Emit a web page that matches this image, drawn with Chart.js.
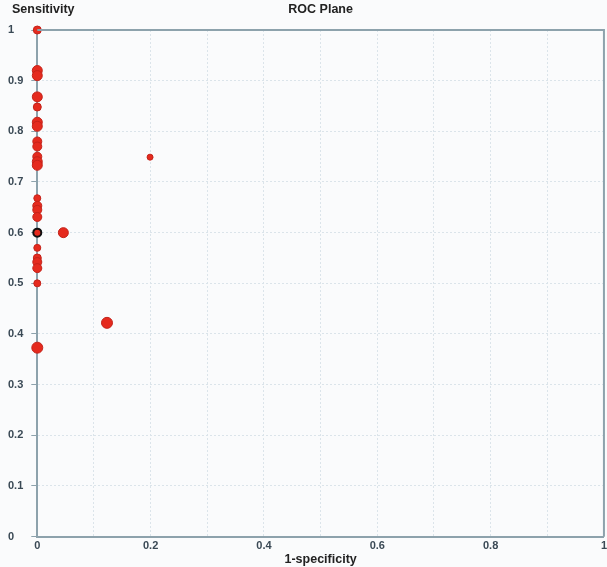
<!DOCTYPE html>
<html>
<head>
<meta charset="utf-8">
<script src="https://cdn.jsdelivr.net/npm/chart.js@4"></script>
<style>
  html, body { margin: 0; padding: 0; background: #fafbfc; }
  #wrap { width: 607px; height: 567px; }
</style>
</head>
<body>
<div id="wrap"><canvas id="roc" width="607" height="567"></canvas></div>
<script>
// studies on the ROC plane: 1-specificity, sensitivity, bubble size
const fpr = [0, 0, 0, 0, 0, 0, 0, 0, 0, 0, 0, 0, 0, 0, 0, 0, 0, 0, 0, 0, 0, 0, 0, 0.046, 0.123, 0.199];
const sens = [1.0, 0.92, 0.91, 0.868, 0.848, 0.818, 0.81, 0.78, 0.77, 0.75, 0.74, 0.733, 0.668, 0.653,
              0.645, 0.631, 0.6, 0.57, 0.55, 0.542, 0.53, 0.5, 0.373, 0.6, 0.422, 0.749];
const size = [4, 5, 5, 5, 4, 5, 5, 4.5, 4.5, 4.5, 5, 5, 3.5, 4.5, 4.5, 4.5, 4, 3.5, 4, 4.5, 4.5, 3.5, 5.5, 5, 5.5, 3];
const highlighted = 16; // the study drawn with a black outline

const xTicks = [0, 0.2, 0.4, 0.6, 0.8, 1];

let points = fpr.map((x, i) => { return { x: x, y: sens[i], r: size[i] }; });

const tickColor = "#3a4955";
const axisColor = "#8da2ac";
const gridColor = "#dbe4ea";
const fontFam = "'Liberation Sans', Arial, sans-serif";

const frame = {
    id: "frame",
    afterDraw(chart){
        let ctx = chart.ctx, a = chart.chartArea;
        ctx.save();
        ctx.strokeStyle = axisColor;
        ctx.lineWidth = 2;
        ctx.beginPath();
        ctx.moveTo(a.left, a.top);
        ctx.lineTo(a.right, a.top);
        ctx.lineTo(a.right, a.bottom);
        ctx.stroke();
        ctx.fillStyle = "#222";
        ctx.font = "bold 12.5px " + fontFam;
        ctx.textBaseline = "middle";
        ctx.textAlign = "left";
        ctx.fillText("Sensitivity", 12, 10);
        ctx.restore();
    }
};

new Chart("roc", {
    type: "bubble",
    data: {
        datasets: [{
            data: points,
            backgroundColor: "#e52a1e",
            borderColor: points.map((p, i) => i === highlighted ? "#111" : "#c3231a"),
            borderWidth: points.map((p, i) => i === highlighted ? 2 : 1),
            hoverRadius: 0,
            clip: false,
        }],
    },
    plugins: [frame],
    options: {
        responsive: false,
        animation: false,
        layout: { autoPadding: false, padding: { left: 8, right: 0, top: 0, bottom: 0 } },
        plugins: {
            legend: { display: false },
            tooltip: { enabled: false },
            title: {
                display: true,
                text: "ROC Plane",
                fullSize: false,
                color: "#222",
                font: { family: fontFam, size: 12.5, weight: "bold" },
                padding: { top: 2, bottom: 13 },
            },
        },
        scales: {
            x: {
                type: "linear",
                min: 0,
                max: 1,
                ticks: {
                    stepSize: 0.1,
                    color: tickColor,
                    font: { family: fontFam, size: 11, weight: "bold", lineHeight: 0.85 },
                    padding: 0,
                    maxRotation: 0,
                    autoSkip: false,
                    callback: (v) => {
                        let r = Math.round(v * 10) / 10;
                        return xTicks.some((t) => Math.abs(t - r) < 1e-6) ? `${r}` : "";
                    },
                },
                grid: { color: gridColor, drawTicks: true, tickLength: 5, tickColor: "rgba(0,0,0,0)", lineWidth: 1 },
                border: { color: axisColor, width: 2, dash: [2, 2] },
                title: {
                    display: true,
                    text: "1-specificity",
                    color: "#222",
                    font: { family: fontFam, size: 12.5, weight: "bold", lineHeight: 1.2 },
                    padding: { top: 1, bottom: 0 },
                },
            },
            y: {
                type: "linear",
                min: 0,
                max: 1,
                ticks: {
                    stepSize: 0.1,
                    color: tickColor,
                    font: { family: fontFam, size: 11, weight: "bold" },
                    crossAlign: "far",
                    padding: 4,
                    callback: (v) => `${Math.round(v * 10) / 10}`,
                },
                grid: { color: gridColor, tickColor: axisColor, tickLength: 6, tickBorderDash: [], lineWidth: 1 },
                border: { color: axisColor, width: 2, dash: [2, 2] },
            },
        },
    },
});
</script>
</body>
</html>
